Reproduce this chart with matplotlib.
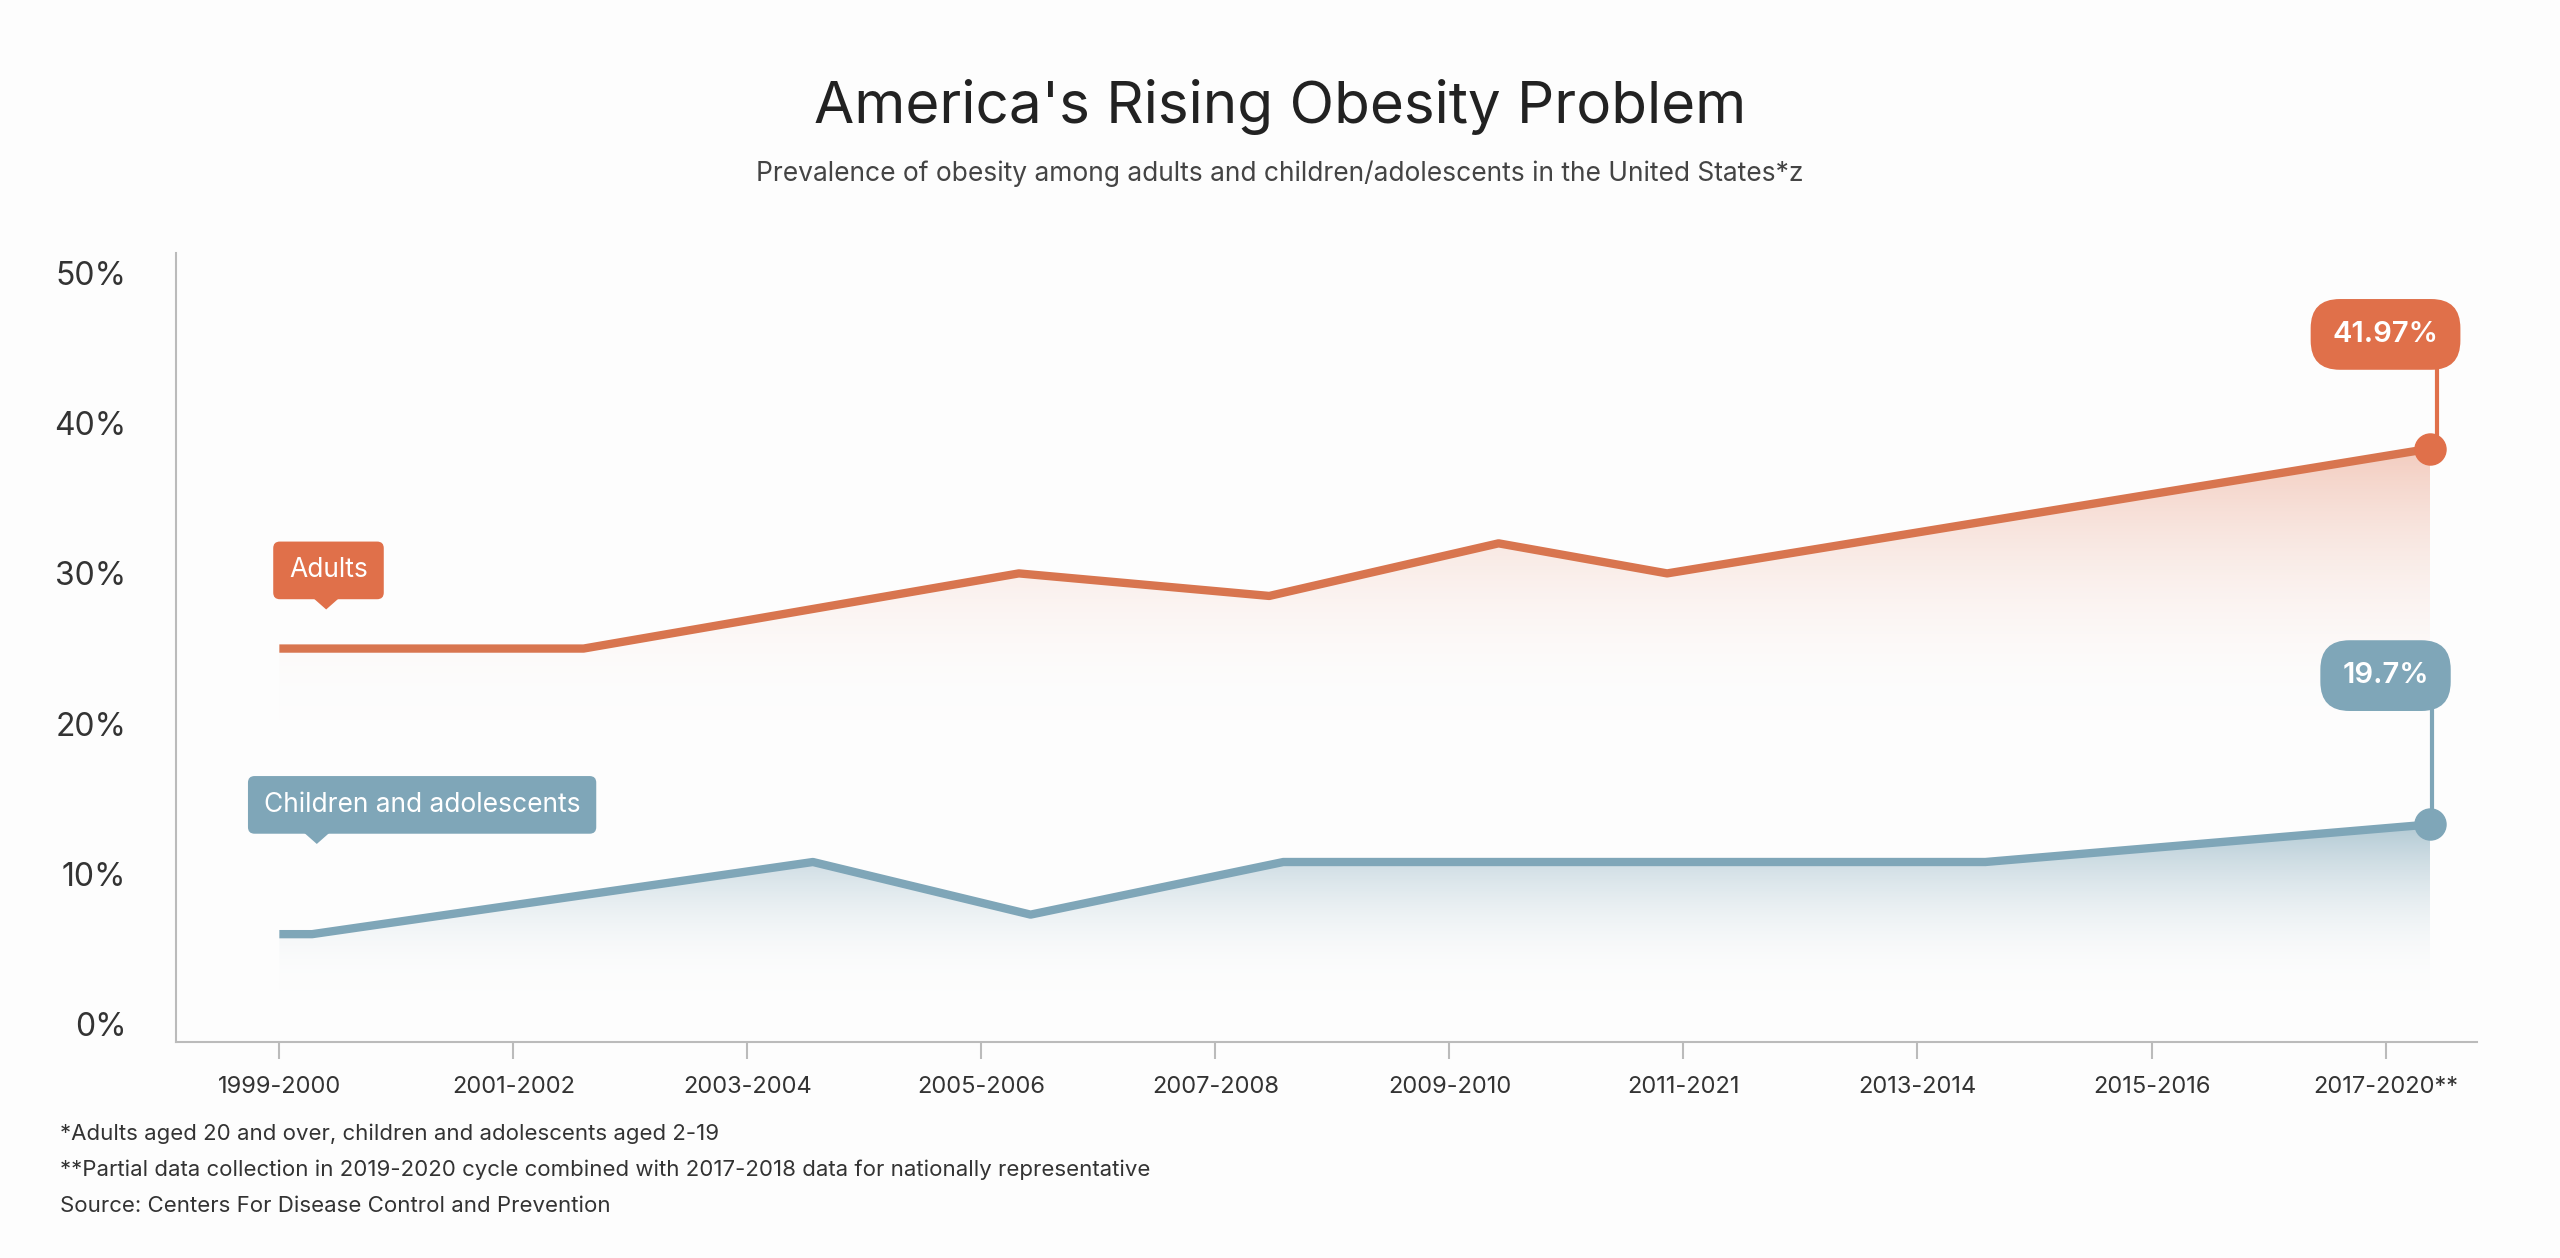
import matplotlib
matplotlib.use("Agg")
import matplotlib.pyplot as plt
import numpy as np
from matplotlib.patches import Polygon
from matplotlib.colors import LinearSegmentedColormap

periods = ["1999-2000","2001-2002","2003-2004","2005-2006","2007-2008","2009-2010",
           "2011-2021","2013-2014","2015-2016","2017-2020**"]
adult_x = [0, 1.30, 3.16, 4.23, 5.21, 5.93, 9.19]
adult_y = [25.0, 25.0, 30.0, 28.5, 32.0, 30.0, 38.3]
child_x = [0, 0.14, 2.28, 3.21, 4.29, 7.29, 9.19]
child_y = [6.0, 6.0, 10.8, 7.3, 10.8, 10.8, 13.3]
adult_label, child_label = "41.97%", "19.7%"
yticks = [0, 10, 20, 30, 40, 50]

ORANGE = "#E0704A"; BLUE = "#7FA6B8"
plt.rcParams['font.family'] = ['Inter', 'DejaVu Sans']
fig = plt.figure(figsize=(25.6, 12.58), dpi=100, facecolor="#FDFDFD")
ax = fig.add_axes([0.0689, 0.1714, 0.8986, 0.6273])
ax.set_facecolor("#FDFDFD")
ax.set_xlim(-0.44, 9.39); ax.set_ylim(-1.2, 51.3)

def grad_fill(xs, ys, color, ybot, alpha_top):
    poly = Polygon(list(zip(xs, ys)) + [(xs[-1], ybot), (xs[0], ybot)], closed=True,
                   facecolor="none", edgecolor="none")
    ax.add_patch(poly)
    cmap = LinearSegmentedColormap.from_list("g", [(1,1,1,0), matplotlib.colors.to_rgba(color, alpha_top)])
    grad = np.linspace(0, 1, 256).reshape(-1, 1)
    im = ax.imshow(grad, cmap=cmap, aspect="auto", origin="lower",
                   extent=[xs[0], xs[-1], ybot, max(ys)], zorder=1)
    im.set_clip_path(poly)

grad_fill(adult_x, adult_y, ORANGE, 20, 0.35)
grad_fill(child_x, child_y, BLUE, 2, 0.6)
ax.plot(adult_x, adult_y, color="#D8754F", lw=6, solid_capstyle="butt", zorder=3)
ax.plot(child_x, child_y, color=BLUE, lw=6, solid_capstyle="butt", zorder=3)
ax.scatter([adult_x[-1]], [adult_y[-1]], s=500, color=ORANGE, zorder=4)
ax.scatter([child_x[-1]], [child_y[-1]], s=500, color=BLUE, zorder=4)

def pill(x, y, txt, color, fs, pad, rnd, weight="normal"):
    ax.text(x, y, txt, ha="center", va="center", color="white", fontsize=fs, zorder=6,
            weight=weight,
            bbox=dict(boxstyle=f"round,pad={pad},rounding_size={rnd}", facecolor=color, edgecolor="none"))

# value callouts
ax.plot([9.22, 9.22], [38.3, 45.0], color=ORANGE, lw=3, zorder=3)
pill(9.0, 45.9, adult_label, ORANGE, 21, 0.75, 1.0, "semibold")
ax.plot([9.20, 9.20], [13.3, 22.5], color=BLUE, lw=3, zorder=3)
pill(9.0, 23.2, child_label, BLUE, 21, 0.75, 1.0, "semibold")
# series labels
pill(0.21, 30.2, "Adults", ORANGE, 19, 0.6, 0.25)
ax.add_patch(Polygon([(0.12, 28.7), (0.28, 28.7), (0.20, 27.6)], facecolor=ORANGE, edgecolor="none", zorder=5))
pill(0.61, 14.6, "Children and adolescents", BLUE, 19, 0.6, 0.25)
ax.add_patch(Polygon([(0.08, 13.1), (0.24, 13.1), (0.16, 12.0)], facecolor=BLUE, edgecolor="none", zorder=5))

ax.set_xticks(range(len(periods))); ax.set_xticklabels(periods, fontsize=17, color="#333333")
ax.set_yticks(yticks); ax.set_yticklabels([f"{v}%" for v in yticks], fontsize=23, color="#333333")
ax.tick_params(axis="y", length=0, pad=36)
ax.tick_params(axis="x", length=12, color="#BBBBBB", width=1.5, pad=12)
for s in ["top", "right"]:
    ax.spines[s].set_visible(False)
for s in ["left", "bottom"]:
    ax.spines[s].set_color("#BBBBBB"); ax.spines[s].set_linewidth(1.5)

fig.text(0.5, 0.915, "America's Rising Obesity Problem", ha="center", va="center", fontsize=42, color="#222222")
fig.text(0.5, 0.862, "Prevalence of obesity among adults and children/adolescents in the United States*z",
         ha="center", va="center", fontsize=19, color="#444444")
notes = ["*Adults aged 20 and over, children and adolescents aged 2-19",
         "**Partial data collection in 2019-2020 cycle combined with 2017-2018 data for nationally representative",
         "Source: Centers For Disease Control and Prevention"]
for i, n in enumerate(notes):
    fig.text(0.0236, 0.0987 - i*0.0286, n, ha="left", va="center", fontsize=16, color="#333333")
fig.savefig("out.png", dpi=100, facecolor=fig.get_facecolor())
